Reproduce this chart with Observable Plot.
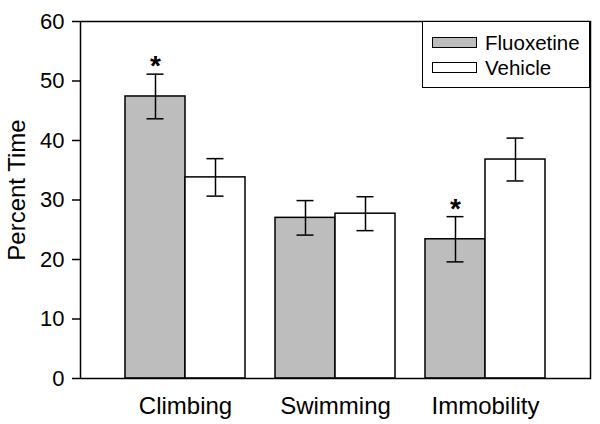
<!DOCTYPE html>
<html>
<head>
<meta charset="utf-8">
<script src="https://cdn.jsdelivr.net/npm/d3@7"></script>
<script src="https://cdn.jsdelivr.net/npm/@observablehq/plot@0.6"></script>
<style>
  html, body { margin: 0; padding: 0; background: #fff; }
  #wrap { position: relative; width: 600px; height: 424px; font-family: "Liberation Sans", Arial, sans-serif; }
  #legend { position: absolute; left: 422px; top: 21px; width: 166px; height: 65px; border: 1.5px solid #000; background: #fff; }
  .sw { position: absolute; left: 9px; width: 43px; height: 9px; border: 1.5px solid #000; }
  .lab { position: absolute; left: 62px; font-size: 20.5px; line-height: 20px; color: #000; }
</style>
</head>
<body>
<div id="wrap"></div>
<script>
const categories = ["Climbing", "Swimming", "Immobility"];
const treatments = ["Fluoxetine", "Vehicle"];
const fluoxetine = [47.4, 27.0, 23.4];
const fluoxetineErr = [3.75, 2.9, 3.8];
const vehicle = [33.8, 27.7, 36.8];
const vehicleErr = [3.15, 2.85, 3.6];
const significant = [true, false, true];
const yTicks = [0, 10, 20, 30, 40, 50, 60];
const yLabel = "Percent Time";
const colors = {Fluoxetine: "#bdbdbd", Vehicle: "#ffffff"};

const fl = categories.map((c, i) => ({category: c, value: fluoxetine[i], lo: fluoxetine[i] - fluoxetineErr[i], hi: fluoxetine[i] + fluoxetineErr[i], sig: significant[i]}));
const ve = categories.map((c, i) => ({category: c, value: vehicle[i], lo: vehicle[i] - vehicleErr[i], hi: vehicle[i] + vehicleErr[i]}));

const half = 60;     // half of the band width (120px)
const capIn = 21.5;  // cap inset so caps are ~17px wide

const chart = Plot.plot({
  width: 600,
  height: 424,
  marginLeft: 80,
  marginRight: 10,
  marginTop: 21,
  marginBottom: 46,
  style: {fontFamily: "'Liberation Sans', Arial, sans-serif", fontSize: "22px", color: "#000", background: "#fff"},
  x: {domain: categories, paddingInner: 0.2, paddingOuter: 0.3, label: null},
  y: {domain: [0, 60], label: null},
  marks: [
    Plot.barY(fl, {x: "category", y: "value", insetRight: half, fill: colors.Fluoxetine, stroke: "#000", strokeWidth: 1.5}),
    Plot.barY(ve, {x: "category", y: "value", insetLeft: half, fill: colors.Vehicle, stroke: "#000", strokeWidth: 1.5}),
    Plot.ruleX(fl, {x: "category", y1: "lo", y2: "hi", dx: -half / 2, stroke: "#000", strokeWidth: 1.5}),
    Plot.ruleX(ve, {x: "category", y1: "lo", y2: "hi", dx: half / 2, stroke: "#000", strokeWidth: 1.5}),
    Plot.tickY(fl, {x: "category", y: "hi", insetLeft: capIn, insetRight: half + capIn, stroke: "#000", strokeWidth: 1.5}),
    Plot.tickY(fl, {x: "category", y: "lo", insetLeft: capIn, insetRight: half + capIn, stroke: "#000", strokeWidth: 1.5}),
    Plot.tickY(ve, {x: "category", y: "hi", insetLeft: half + capIn, insetRight: capIn, stroke: "#000", strokeWidth: 1.5}),
    Plot.tickY(ve, {x: "category", y: "lo", insetLeft: half + capIn, insetRight: capIn, stroke: "#000", strokeWidth: 1.5}),
    Plot.text(fl.filter(d => d.sig), {x: "category", y: "hi", text: d => "*", dx: -half / 2, dy: 1, lineAnchor: "bottom", fontSize: 28, fontWeight: "bold", fill: "#000"}),
    Plot.frame({stroke: "#000", strokeWidth: 1.5}),
    Plot.axisY({ticks: yTicks, tickSize: 8, tickPadding: 8, fontSize: 22, label: null, strokeWidth: 1.5}),
    Plot.axisX({tickSize: 0, tickPadding: 18, fontSize: 24, label: null}),
    Plot.text([yLabel], {text: d => d, frameAnchor: "left", textAnchor: "middle", lineAnchor: "middle", dx: -63, dy: -10, rotate: -90, fontSize: 24, fill: "#000"})
  ]
});

const wrap = document.getElementById("wrap");
wrap.appendChild(chart);

const legend = document.createElement("div");
legend.id = "legend";
treatments.forEach((t, i) => {
  const sw = document.createElement("div");
  sw.className = "sw";
  sw.style.top = (15 + i * 25) + "px";
  sw.style.background = colors[t];
  legend.appendChild(sw);
  const lab = document.createElement("div");
  lab.className = "lab";
  lab.style.top = (11 + i * 25) + "px";
  lab.textContent = t;
  legend.appendChild(lab);
});
wrap.appendChild(legend);
</script>
</body>
</html>
